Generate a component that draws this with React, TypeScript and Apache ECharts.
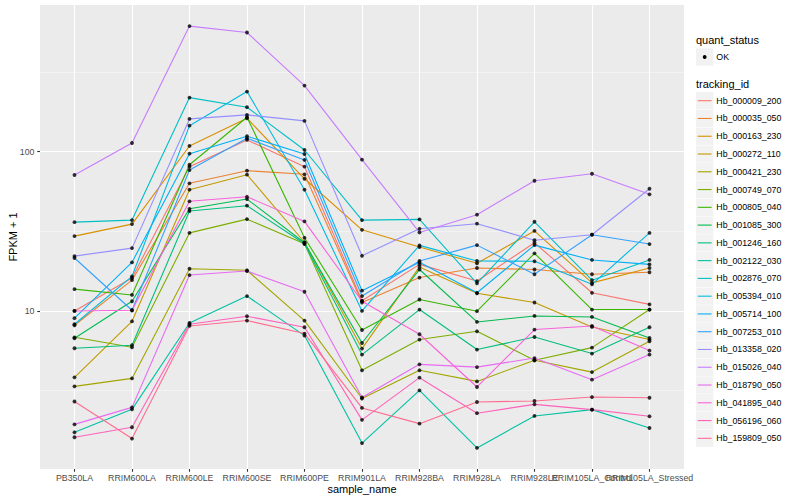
import React, { useEffect, useRef } from "react";
import * as echarts from "echarts";

const sampleNames = [
  "PB350LA", "RRIM600LA", "RRIM600LE", "RRIM600SE", "RRIM600PE", "RRIM901LA",
  "RRIM928BA", "RRIM928LA", "RRIM928LE", "RRIM105LA_Control", "RRIM105LA_Stressed",
];

const trackingIds = [
  "Hb_000009_200", "Hb_000035_050", "Hb_000163_230", "Hb_000272_110", "Hb_000421_230",
  "Hb_000749_070", "Hb_000805_040", "Hb_001085_300", "Hb_001246_160", "Hb_002122_030",
  "Hb_002876_070", "Hb_005394_010", "Hb_005714_100", "Hb_007253_010", "Hb_013358_020",
  "Hb_015026_040", "Hb_018790_050", "Hb_041895_040", "Hb_056196_060", "Hb_159809_050",
];

const trackingColors = [
  "#F8766D", "#EA8331", "#D89000", "#C09B00", "#A3A500", "#7CAE00", "#39B600", "#00BB4E",
  "#00BF7D", "#00C1A3", "#00BFC4", "#00BAE0", "#00B0F6", "#35A2FF", "#9590FF", "#C77CFF",
  "#E76BF3", "#FA62DB", "#FF62BC", "#FF6C91",
];

// FPKM + 1 per sample (same order as sampleNames)
const hb000009_200 = [10.0, 16.1, 80.5, 118.5, 80.5, 11.6, 19.6, 15.4, 26.8, 13.0, 11.0];
const hb000035_050 = [8.13, 15.6, 63.3, 76.0, 72.1, 11.3, 16.2, 18.6, 18.2, 17.0, 17.5];
const hb000163_230 = [29.5, 35.1, 108.6, 162.2, 67.6, 32.3, 25.2, 19.9, 31.8, 15.0, 18.6];
const hb000272_110 = [3.83, 8.61, 57.7, 71.7, 27.0, 5.8, 18.9, 12.9, 11.3, 7.93, 6.61];
const hb000421_230 = [3.36, 3.77, 18.4, 18.0, 8.7, 2.82, 4.24, 3.61, 4.9, 4.13, 6.45];
const hb000749_070 = [6.83, 5.91, 30.9, 37.7, 26.4, 4.24, 6.61, 7.45, 4.9, 5.88, 10.2];
const hb000805_040 = [13.7, 12.6, 82.8, 164.6, 28.8, 7.59, 11.8, 9.96, 23.0, 10.2, 10.2];
const hb001085_300 = [6.73, 11.5, 43.8, 50.4, 26.8, 6.29, 18.2, 8.53, 9.3, 9.17, 6.77];
const hb001246_160 = [5.83, 6.09, 42.4, 45.8, 26.4, 5.32, 10.2, 5.72, 6.86, 5.4, 7.9];
const hb002122_030 = [1.73, 2.41, 8.4, 12.4, 7.0, 1.48, 3.17, 1.38, 2.19, 2.4, 1.84];
const hb002876_070 = [36.1, 37.2, 218.6, 190.2, 102.5, 37.2, 37.6, 14.9, 36.3, 15.6, 20.9];
const hb005394_010 = [8.25, 16.5, 145.7, 238.5, 57.7, 10.0, 25.8, 20.6, 20.5, 14.7, 30.9];
const hb005714_100 = [9.0, 20.2, 97.1, 125.0, 96.7, 13.4, 20.2, 13.0, 25.9, 20.9, 19.6];
const hb007253_010 = [21.5, 10.1, 76.7, 121.4, 88.7, 12.4, 20.6, 25.9, 17.0, 30.1, 26.3];
const hb013358_020 = [22.1, 24.8, 160.6, 170.2, 156.1, 22.2, 32.8, 35.3, 27.8, 30.1, 58.5];
const hb015026_040 = [71.4, 113.4, 614.7, 560.2, 260.2, 89.1, 31.1, 40.2, 65.7, 72.7, 54.0];
const hb018790_050 = [1.94, 2.48, 16.8, 17.8, 13.2, 2.86, 4.62, 4.44, 5.06, 3.7, 5.32];
const hb041895_040 = [10.0, 10.1, 48.8, 52.1, 36.5, 11.5, 7.14, 3.33, 7.64, 8.05, 5.64];
const hb056196_060 = [1.61, 1.86, 8.25, 9.26, 7.9, 2.07, 3.81, 2.28, 2.59, 2.4, 2.18];
const hb159809_050 = [2.7, 1.58, 8.05, 8.7, 7.21, 2.46, 1.96, 2.68, 2.72, 2.88, 2.85];

const fpkmPlusOne = [
  hb000009_200, hb000035_050, hb000163_230, hb000272_110, hb000421_230,
  hb000749_070, hb000805_040, hb001085_300, hb001246_160, hb002122_030,
  hb002876_070, hb005394_010, hb005714_100, hb007253_010, hb013358_020,
  hb015026_040, hb018790_050, hb041895_040, hb056196_060, hb159809_050,
];

const yMajorTicks = [10, 100];
const yMinorTicks = [Math.sqrt(10), Math.sqrt(1000), Math.sqrt(100000)];
const quantStatus = ["OK"];

const FONT = "'Liberation Sans', Arial, Helvetica, sans-serif";

export default function App() {
  const ref = useRef<HTMLDivElement>(null);

  useEffect(() => {
    if (!ref.current) return;
    document.body.style.margin = "0";
    const chart = echarts.init(ref.current, null, { renderer: "svg" });

    const logs = fpkmPlusOne.flat().map((v) => Math.log10(v));
    const lo = Math.min(...logs);
    const hi = Math.max(...logs);
    const pad = (hi - lo) * 0.05;
    const xIdx = sampleNames.map((_, i) => i);
    const yMin = lo - pad;
    const yMax = hi + pad;

    const lineSeries = fpkmPlusOne.map((vals, i) => ({
      type: "line",
      name: trackingIds[i],
      data: vals.map((v, j) => [j, Math.log10(v)]),
      showSymbol: false,
      symbol: "none",
      silent: true,
      z: 2,
      xAxisIndex: 0,
      yAxisIndex: 0,
      lineStyle: { color: trackingColors[i], width: 1.1 },
      itemStyle: { color: trackingColors[i] },
    }));

    const pointSeries = {
      type: "scatter",
      name: quantStatus[0],
      data: fpkmPlusOne.flatMap((vals) => vals.map((v, j) => [j, Math.log10(v)])),
      symbol: "circle",
      symbolSize: 3.8,
      silent: true,
      z: 3,
      xAxisIndex: 0,
      yAxisIndex: 0,
      itemStyle: { color: "#000000" },
    };

    // legend drawn with graphic elements (ggplot-like keys)
    const legendX = 696;
    const keySize = 17.3;
    const graphics: any[] = [];
    graphics.push({
      type: "text", x: legendX, y: 40.2,
      style: { text: "quant_status", fill: "#000", fontSize: 11, fontFamily: FONT, textVerticalAlign: "middle", verticalAlign: "middle" },
    });
    quantStatus.forEach((q, i) => {
      const cy = 57 + i * 17.77;
      graphics.push({ type: "rect", shape: { x: legendX, y: cy - keySize / 2, width: keySize, height: keySize }, style: { fill: "#F2F2F2" } });
      graphics.push({ type: "circle", shape: { cx: legendX + keySize / 2, cy, r: 1.9 }, style: { fill: "#000" } });
      graphics.push({
        type: "text", x: legendX + keySize + 3, y: cy,
        style: { text: q, fill: "#000", fontSize: 8.8, fontFamily: FONT, textVerticalAlign: "middle", verticalAlign: "middle" },
      });
    });
    graphics.push({
      type: "text", x: legendX, y: 84,
      style: { text: "tracking_id", fill: "#000", fontSize: 11, fontFamily: FONT, textVerticalAlign: "middle", verticalAlign: "middle" },
    });
    trackingIds.forEach((id, i) => {
      const cy = 100.7 + i * 17.77;
      graphics.push({ type: "rect", shape: { x: legendX, y: cy - keySize / 2, width: keySize, height: keySize }, style: { fill: "#F2F2F2" } });
      graphics.push({ type: "line", shape: { x1: legendX + 1.7, y1: cy, x2: legendX + keySize - 1.7, y2: cy }, style: { stroke: trackingColors[i], lineWidth: 1.1 } });
      graphics.push({
        type: "text", x: legendX + keySize + 3, y: cy,
        style: { text: id, fill: "#000", fontSize: 8.8, fontFamily: FONT, textVerticalAlign: "middle", verticalAlign: "middle" },
      });
    });

    const xLabelStyle = { color: "#4D4D4D", fontSize: 8.8, margin: 4.5, fontFamily: FONT, hideOverlap: false };
    // x labels split over overlaid axes so that overlapping neighbours are all kept, as in the reference
    const labelGroups = [xIdx.slice(0, 9), [9], [10]];
    const xAxes = labelGroups.map((group, k) => ({
      type: "value",
      min: -0.6,
      max: 10.6,
      position: "bottom",
      offset: 0,
      axisLine: { show: false, onZero: false },
      axisTick: k === 0
        ? { show: true, length: 2.75, customValues: xIdx, lineStyle: { color: "#333333", width: 1.1 } }
        : { show: false, customValues: group },
      axisLabel: {
        ...xLabelStyle,
        customValues: group,
        formatter: (v: number) => sampleNames[Math.round(v)] ?? "",
      },
      splitLine: { show: k === 0, lineStyle: { color: "#FFFFFF", width: 1.1 } },
      ...(k === 0
        ? {
            name: "sample_name",
            nameLocation: "middle",
            nameGap: 14,
            nameMoveOverlap: false,
            nameTextStyle: { fontSize: 11, color: "#000000", fontFamily: FONT },
          }
        : {}),
    }));

    chart.setOption({
      animation: false,
      backgroundColor: "#FFFFFF",
      textStyle: { fontFamily: FONT },
      grid: {
        left: 40, right: 116, top: 5, bottom: 31,
        show: true, backgroundColor: "#EBEBEB", borderWidth: 0, containLabel: false,
        outerBoundsMode: "none",
      },
      xAxis: xAxes,
      yAxis: [
        {
          type: "value",
          min: yMin,
          max: yMax,
          position: "left",
          axisLine: { show: false, onZero: false },
          axisTick: { show: true, length: 2.75, customValues: yMajorTicks.map((v) => Math.log10(v)), lineStyle: { color: "#333333", width: 1.1 } },
          axisLabel: {
            customValues: yMajorTicks.map((v) => Math.log10(v)),
            formatter: (v: number) => String(Math.round(Math.pow(10, v))),
            color: "#4D4D4D", fontSize: 8.8, margin: 5.5, fontFamily: FONT,
          },
          splitLine: { show: true, lineStyle: { color: "#FFFFFF", width: 1.1 } },
          name: "FPKM + 1",
          nameLocation: "middle",
          nameGap: 22,
          nameRotate: 90,
          nameMoveOverlap: false,
          nameTextStyle: { fontSize: 11, color: "#000000", fontFamily: FONT },
        },
        {
          type: "value",
          min: yMin,
          max: yMax,
          position: "left",
          offset: 0,
          axisLine: { show: false, onZero: false },
          axisTick: { show: false, customValues: yMinorTicks.map((v) => Math.log10(v)) },
          axisLabel: { show: false },
          splitLine: { show: true, lineStyle: { color: "#F7F7F7", width: 0.7 } },
        },
      ],
      series: [...lineSeries, pointSeries],
      graphic: { elements: graphics },
    });

    return () => chart.dispose();
  }, []);

  return <div ref={ref} style={{ width: 800, height: 500 }} />;
}
